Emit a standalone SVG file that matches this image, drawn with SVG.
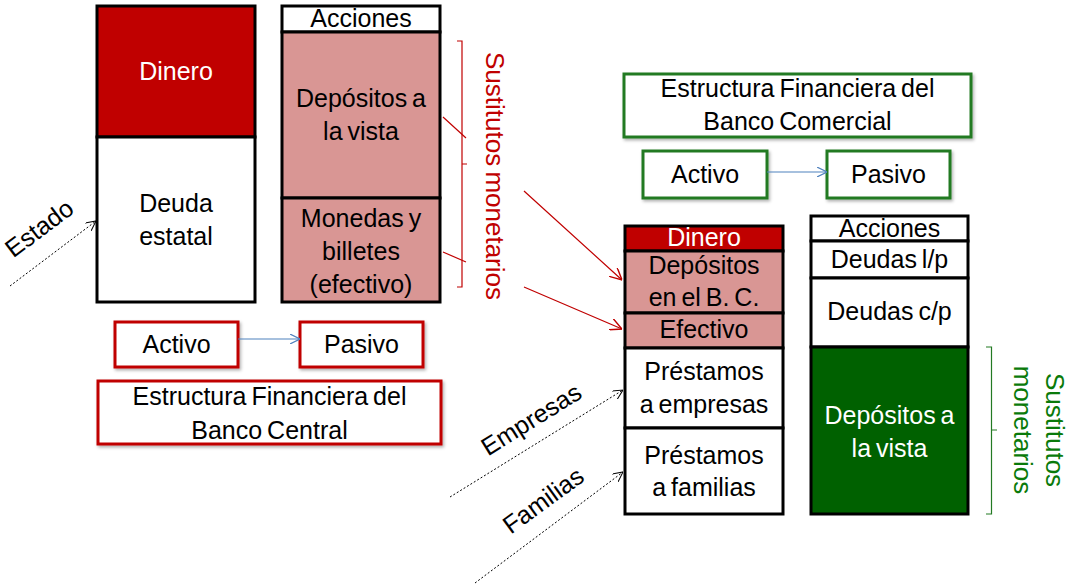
<svg xmlns="http://www.w3.org/2000/svg" width="1073" height="587" viewBox="0 0 1073 587">
<style>
text{font-family:"Liberation Sans",Arial,sans-serif;font-size:25px;fill:#000;text-anchor:middle;word-spacing:-2px}
.w{fill:#fff}
.cell{stroke:#000;stroke-width:3}
.white{fill:#fff}
.dred{fill:#c00000}
.pink{fill:#d99694}
.dgreen{fill:#006100}
.rbox{fill:#fff;stroke:#c00000;stroke-width:3;filter:url(#sh)}
.gbox{fill:#fff;stroke:#237a23;stroke-width:3;filter:url(#sh)}
.blue{stroke:#4f81bd;stroke-width:1.2;fill:none;marker-end:url(#ab)}
.red{stroke:#c00000;stroke-width:1.2;fill:none;marker-end:url(#ar)}
.dash{stroke:#000;stroke-width:1;stroke-dasharray:2 2;fill:none;marker-end:url(#ak)}
.rbr{stroke:#c00000;stroke-width:1.2;fill:none}
.gbr{stroke:#237a23;stroke-width:1.2;fill:none}
.rt{fill:#c00000;font-size:26px}
.gt{fill:#0a7a0a;font-size:26px}
</style>
<defs>
<filter id="sh" x="-10%" y="-10%" width="130%" height="140%">
<feDropShadow dx="1.5" dy="2" stdDeviation="1.5" flood-color="#000" flood-opacity="0.3"/>
</filter>
<marker id="ab" viewBox="0 0 10 10" refX="10" refY="5" markerWidth="10" markerHeight="10" markerUnits="userSpaceOnUse" orient="auto"><path d="M0,0 L10,5 L0,10" fill="none" stroke="#4f81bd" stroke-width="1.2"/></marker>
<marker id="ar" viewBox="0 0 10 10" refX="10" refY="5" markerWidth="12" markerHeight="12" markerUnits="userSpaceOnUse" orient="auto"><path d="M0,0 L10,5 L0,10" fill="none" stroke="#c00000" stroke-width="1.2"/></marker>
<marker id="ak" viewBox="0 0 10 10" refX="10" refY="5" markerWidth="10" markerHeight="10" markerUnits="userSpaceOnUse" orient="auto"><path d="M0,0 L10,5 L0,10" fill="none" stroke="#000" stroke-width="1"/></marker>
</defs>

<!-- Banco Central: Activo column -->
<g id="bc-activo">
<rect class="cell dred" x="97" y="6" width="158" height="131"/>
<text class="w" x="176" y="80">Dinero</text>
<rect class="cell white" x="97" y="137" width="158" height="165"/>
<text x="176" y="212">Deuda</text>
<text x="176" y="245">estatal</text>
</g>

<!-- Banco Central: Pasivo column -->
<g id="bc-pasivo">
<rect class="cell white" x="282" y="6" width="158" height="26"/>
<text x="361" y="27">Acciones</text>
<rect class="cell pink" x="282" y="32" width="158" height="166"/>
<text x="361" y="107">Depósitos a</text>
<text x="361" y="140">la vista</text>
<rect class="cell pink" x="282" y="198" width="158" height="104"/>
<text x="361" y="227">Monedas y</text>
<text x="361" y="260">billetes</text>
<text x="361" y="293">(efectivo)</text>
</g>

<g id="bc-sustitutos">
<path class="rbr" d="M457,41 H462 V287 H457 M462,164 H467"/>
<text class="rt" transform="translate(495,176) rotate(90)" x="0" y="9">Sustitutos monetarios</text>
</g>

<g id="bc-activo-label">
<rect class="rbox" x="115" y="322" width="123" height="45"/>
<text x="176.5" y="353">Activo</text>
</g>
<g id="bc-pasivo-label">
<rect class="rbox" x="300" y="322" width="123" height="45"/>
<text x="361.5" y="353">Pasivo</text>
</g>
<g id="bc-titulo">
<rect class="rbox" x="98" y="381" width="343" height="63"/>
<text x="269.5" y="405">Estructura Financiera del</text>
<text x="269.5" y="439">Banco Central</text>
</g>

<g id="estado-label">
<text transform="translate(39,228) rotate(-37)" x="0" y="9">Estado</text>
</g>
<g id="empresas-label">
<text transform="translate(531,419) rotate(-32)" x="0" y="9">Empresas</text>
</g>
<g id="familias-label">
<text transform="translate(543,500) rotate(-36)" x="0" y="9">Familias</text>
</g>

<!-- Banco Comercial -->
<g id="cm-titulo">
<rect class="gbox" x="624" y="74" width="347" height="63"/>
<text x="797.5" y="97">Estructura Financiera del</text>
<text x="797.5" y="130">Banco Comercial</text>
</g>
<g id="cm-activo-label">
<rect class="gbox" x="643" y="151" width="124" height="47"/>
<text x="705" y="183">Activo</text>
</g>
<g id="cm-pasivo-label">
<rect class="gbox" x="827" y="151" width="123" height="47"/>
<text x="888.5" y="183">Pasivo</text>
</g>

<g id="cm-activo">
<rect class="cell dred" x="625" y="226" width="158" height="25"/>
<text class="w" x="704" y="246">Dinero</text>
<rect class="cell pink" x="625" y="251" width="158" height="62"/>
<text x="704" y="274">Depósitos</text>
<text x="704" y="306">en el B. C.</text>
<rect class="cell pink" x="625" y="313" width="158" height="35"/>
<text x="704" y="338">Efectivo</text>
<rect class="cell white" x="625" y="348" width="158" height="80"/>
<text x="704" y="380">Préstamos</text>
<text x="704" y="413">a empresas</text>
<rect class="cell white" x="625" y="428" width="158" height="86"/>
<text x="704" y="464">Préstamos</text>
<text x="704" y="496">a familias</text>
</g>

<g id="cm-pasivo">
<rect class="cell white" x="811" y="216" width="157" height="25"/>
<text x="889.5" y="237">Acciones</text>
<rect class="cell white" x="811" y="241" width="157" height="37"/>
<text x="889.5" y="268">Deudas l/p</text>
<rect class="cell white" x="811" y="278" width="157" height="69"/>
<text x="889.5" y="320">Deudas c/p</text>
<rect class="cell dgreen" x="811" y="347" width="157" height="167"/>
<text class="w" x="889.5" y="424">Depósitos a</text>
<text class="w" x="889.5" y="457">la vista</text>
</g>

<g id="cm-sustitutos">
<path class="gbr" d="M986,347 H991.5 V514 H986 M991.5,430 H997"/>
<text class="gt" transform="translate(1039,430) rotate(90)"><tspan x="0" y="-7">Sustitutos</tspan><tspan x="0" y="25">monetarios</tspan></text>
</g>

<!-- Connectors -->
<g id="connectors">
<line class="blue" x1="238" y1="339" x2="300" y2="339"/>
<line class="blue" x1="767" y1="172" x2="827" y2="172"/>
<path class="red" d="M443,117 L466,138 M524,191 L622,280"/>
<path class="red" d="M443,252 L466,262 M524,287 L622,329"/>
<line class="dash" x1="10" y1="286" x2="96" y2="221"/>
<line class="dash" x1="450" y1="497" x2="623" y2="390"/>
<line class="dash" x1="475" y1="583" x2="623" y2="472"/>
</g>
</svg>
